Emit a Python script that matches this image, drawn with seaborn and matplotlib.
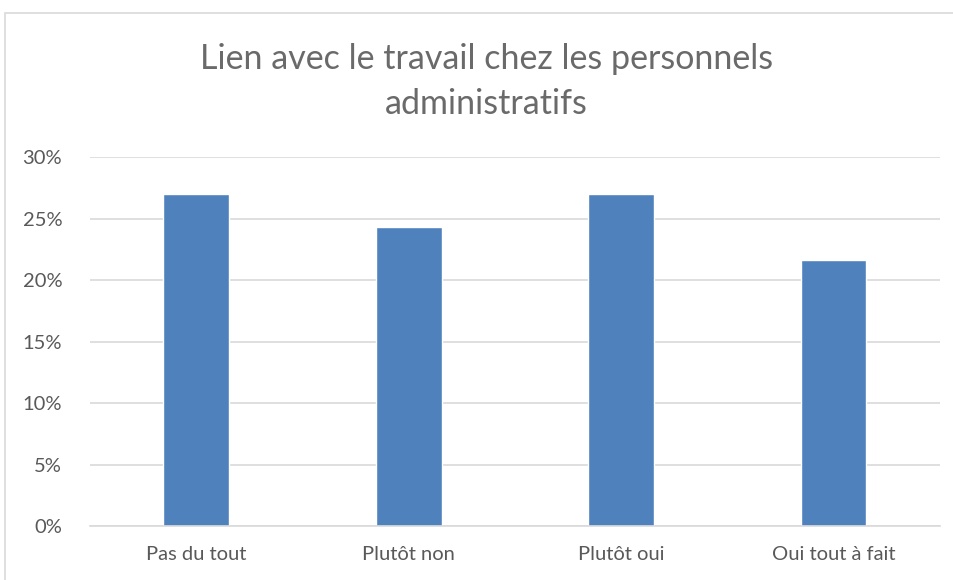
import seaborn as sns
import pandas as pd
import matplotlib.pyplot as plt
from matplotlib.patches import Rectangle
from matplotlib.ticker import PercentFormatter

# Data
categories = ["Pas du tout", "Plutôt non", "Plutôt oui", "Oui tout à fait"]
values = [27.03, 24.32, 27.03, 21.62]

df = pd.DataFrame({"reponse": categories, "pct": values})

sns.set_theme(style="white")
plt.rcParams['font.family'] = ['Lato', 'DejaVu Sans']

fig = plt.figure(figsize=(9.54, 5.80), dpi=100)
ax = fig.add_axes([0.0943, 0.093, 0.8907, 0.636])

# light border of the chart frame (cropped at right/bottom)
fig.patches.append(Rectangle((5 / 954, -0.1), 1.1, (580 - 13) / 580 + 0.1,
                             transform=fig.transFigure, fill=False,
                             edgecolor="#d9d9d9", linewidth=1.2))

sns.barplot(data=df, x="reponse", y="pct", color="#4f81bd", width=0.31,
            saturation=1, ax=ax)

ax.set_ylim(0, 30)
ax.set_xlim(-0.5, 3.5)
ax.set_yticks([0, 5, 10, 15, 20, 25, 30])
ax.yaxis.set_major_formatter(PercentFormatter(decimals=0))
ax.yaxis.grid(True, color="#d9d9d9", linewidth=1.2)
ax.set_axisbelow(True)
for s in ["top", "right", "left"]:
    ax.spines[s].set_visible(False)
ax.spines["bottom"].set_color("#d9d9d9")
ax.spines["bottom"].set_linewidth(1.2)
ax.tick_params(axis="both", length=0, labelsize=14.5, labelcolor="#595959")
ax.tick_params(axis="y", pad=20)
ax.tick_params(axis="x", pad=14)
ax.set_xlabel("")
ax.set_ylabel("")

fig.text(0.51, 0.86, "Lien avec le travail chez les personnels\nadministratifs",
         ha="center", va="center", fontsize=24.5, color="#6a6a6a",
         linespacing=1.5)

fig.savefig("out.png", dpi=100, facecolor="white")
